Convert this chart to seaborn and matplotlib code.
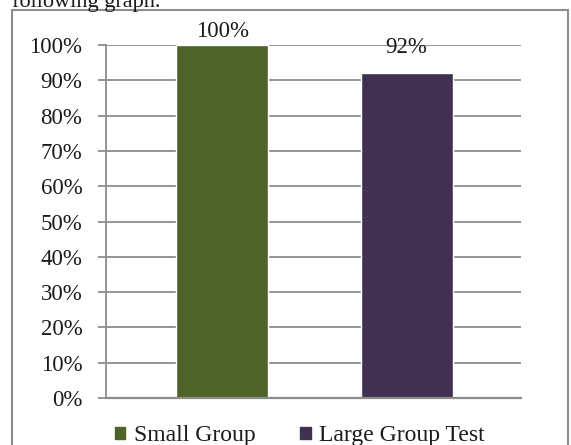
import matplotlib
matplotlib.use("Agg")
import matplotlib.pyplot as plt
import matplotlib.patches as mpatches
import seaborn as sns

categories = ["Small Group", "Large Group Test"]
values = [1.00, 0.92]
value_labels = ["100%", "92%"]
colors = ["#4F6228", "#403151"]
ytick_vals = [i / 10 for i in range(11)]
ytick_labels = [f"{i * 10}%" for i in range(11)]

sns.set_theme(style="white")
plt.rcParams["font.family"] = ["Liberation Serif", "DejaVu Serif"]

fig = plt.figure(figsize=(5.71, 4.45), dpi=100)
ax = fig.add_axes([106 / 571, 1 - 398 / 445, 415 / 571, 353 / 445])

sns.barplot(x=categories, y=values, hue=categories, palette=colors,
            width=0.5, legend=False, ax=ax, saturation=1)

ax.set_xlim(-0.63, 1.62)
ax.set_ylim(0, 1)
ax.set_yticks(ytick_vals)
ax.set_yticklabels(ytick_labels, fontsize=16.5, color="#1a1a1a")
ax.set_xticks([])
ax.set_xlabel("")
ax.set_ylabel("")

grid_col = "#8c8c8c"
ax.yaxis.grid(True, color=grid_col, lw=1.3)
ax.set_axisbelow(True)
for s in ["top", "right"]:
    ax.spines[s].set_visible(False)
ax.spines["left"].set_color(grid_col)
ax.spines["left"].set_linewidth(1.3)
ax.spines["bottom"].set_color(grid_col)
ax.spines["bottom"].set_linewidth(1.6)
ax.tick_params(axis="y", left=True, length=6, width=1.3, color=grid_col,
               direction="out", pad=11)

label_pads = [2, 11]
for i, (v, lab) in enumerate(zip(values, value_labels)):
    ax.annotate(lab, (i, v), xytext=(0, label_pads[i]), textcoords="offset points",
                ha="center", va="bottom", fontsize=16.5, color="#1a1a1a",
                annotation_clip=False)

handles = [mpatches.Patch(color=c, label=l) for c, l in zip(colors, categories)]
fig.legend(handles=handles, loc="center", bbox_to_anchor=(0.525, 1 - 436 / 445),
           ncol=2, frameon=False, fontsize=17, handlelength=0.45, handleheight=0.45,
           handletextpad=0.35, columnspacing=1.9, labelcolor="#1a1a1a",
           borderpad=0.1)

# outer chart frame
fig.patches.append(mpatches.Rectangle((12 / 571, -0.05), 556 / 571, 1.05 - 10 / 445,
                                      transform=fig.transFigure, fill=False,
                                      edgecolor=grid_col, lw=1.5))
fig.text(12 / 571, 1 - 7 / 445, "following graph.", fontsize=16, color="#1a1a1a",
         va="baseline", ha="left")

fig.savefig("out.png", dpi=100)
